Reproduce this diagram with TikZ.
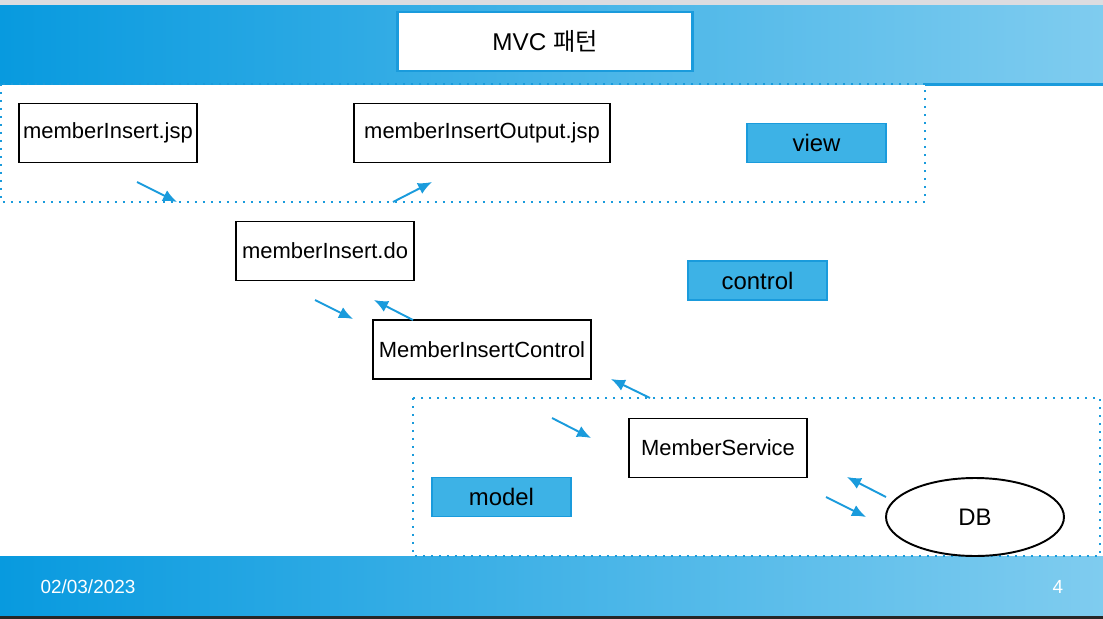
\documentclass[tikz,border=0pt]{standalone}
\usepackage{fontspec}
\setmainfont{Liberation Sans}
\newfontfamily\krfont{Noto Sans CJK KR}
\usetikzlibrary{arrows.meta,shapes.geometric}
\definecolor{bandleft}{HTML}{089ADF}
\definecolor{bandright}{HTML}{7FCCEF}
\definecolor{accent}{HTML}{1A9BDC}
\definecolor{tagfill}{HTML}{3DB2E6}
\definecolor{framegray}{HTML}{DCDCE0}

\begin{document}
\begin{tikzpicture}[x=0.02cm, y=-0.02cm,
  comp/.style={draw=black, line width=1.1pt, fill=white, minimum height=1.18cm, inner sep=0pt, font=\fontsize{12.5}{14}\selectfont},
  tag/.style={draw=accent, line width=0.6pt, fill=tagfill, minimum width=2.78cm, minimum height=0.78cm, inner sep=0pt, font=\fontsize{13.6}{15}\selectfont},
  flow/.style={accent, line width=1.1pt, -{Latex[length=2.8mm,width=2.4mm]}},
  layer/.style={accent, line width=1.1pt, dash pattern=on 0.4mm off 1.2mm}]
  \useasboundingbox (0,0) rectangle (1103,619);
  % header and footer bands
  \fill[framegray] (0,0) rectangle (1103,5);
  \shade[left color=bandleft, right color=bandright] (0,5) rectangle (1103,84);
  \draw[accent, line width=1.2pt] (925,84.5) -- (1103,84.5);
  \shade[left color=bandleft, right color=bandright] (0,556) rectangle (1103,616);
  \fill[black!85] (0,616) rectangle (1103,619);
  \node[draw=accent, line width=1.3pt, fill=white, minimum width=5.9cm, minimum height=1.18cm, font=\fontsize{13.8}{16}\selectfont] (title) at (545,41.5) {MVC {\krfont 패턴}};
  \node[text=white, font=\fontsize{10.8}{13}\selectfont] (date) at (88,587) {02/03/2023};
  \node[text=white, font=\fontsize{10.8}{13}\selectfont] (page) at (1058,587) {4};
  % layers
  \draw[layer] (1,84) rectangle (925,202);
  \draw[layer] (413,398) rectangle (1100,556);
  \node[comp, minimum width=3.56cm] (jsp) at (108,133) {memberInsert.jsp};
  \node[comp, minimum width=5.12cm] (outjsp) at (482,133) {memberInsertOutput.jsp};
  \node[tag] (view) at (816.5,143) {view};
  \node[comp, minimum width=3.56cm] (do) at (325,251) {memberInsert.do};
  \node[tag] (control) at (757.5,280.5) {control};
  \node[comp, minimum width=4.36cm] (ctrl) at (482,349.5) {MemberInsertControl};
  \node[comp, minimum width=3.56cm] (service) at (718,448) {MemberService};
  \node[tag] (model) at (501.5,497) {model};
  \node[ellipse, draw, line width=1.1pt, fill=white, minimum width=3.56cm, minimum height=1.56cm, inner sep=0pt, font=\fontsize{13.6}{15}\selectfont] (db) at (975,517) {DB};
  % request / response flow
  \foreach \n/\sx/\sy/\ex/\ey in {1/137/182/177/202, 2/393/202/432/182, 3/315/300/353/319, 4/413/320/374/300, 5/650/398/611/379, 6/552/418/591/438, 7/886/497/847/477, 8/826/497/866/517}
  {
    \coordinate (from\n) at (\sx,\sy);
    \coordinate (to\n) at (\ex,\ey);
    \draw[flow] (from\n) -- (to\n);
  }
\end{tikzpicture}
\end{document}
